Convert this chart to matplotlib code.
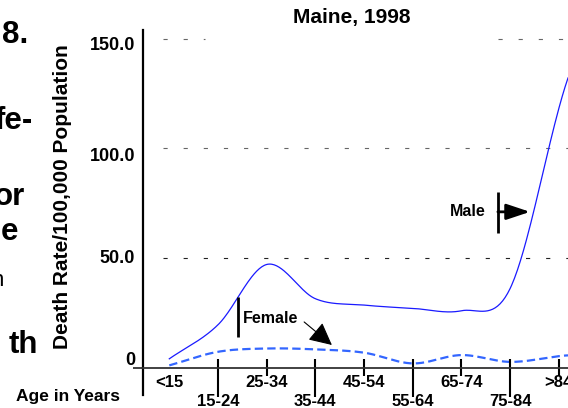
import numpy as np
import matplotlib
import matplotlib.pyplot as plt
from matplotlib.transforms import ScaledTranslation

plt.rcParams['font.family'] = ['Liberation Sans', 'DejaVu Sans']
plt.rcParams['font.weight'] = 'bold'
plt.rcParams['lines.scale_dashes'] = False

# data
ages = ['<15', '15-24', '25-34', '35-44', '45-54', '55-64', '65-74', '75-84', '>84']
male = [4, 19.5, 47, 31.4, 28.5, 27, 25.9, 36, 118]
female = [1, 7.2, 8.7, 8.3, 6.8, 1.9, 5.7, 2.6, 5.2]
yticks = [0, 50, 100, 150]
ytick_labels = ['0', '50.0', '100.0', '150.0']


def smooth(ys, n=40, tail=0.19):
    # excel style smoothed line (catmull-rom through the points)
    ys = np.asarray(ys, float)
    m = np.zeros_like(ys)
    m[1:-1] = (ys[2:] - ys[:-2]) / 2
    m[0] = ys[1] - ys[0]
    m[-1] = ys[-1] - ys[-2]
    xs_out, ys_out = [], []
    for i in range(len(ys) - 1):
        end = 1 + tail if i == len(ys) - 2 else 1
        t = np.linspace(0, end, n)
        h00 = 2*t**3 - 3*t**2 + 1
        h10 = t**3 - 2*t**2 + t
        h01 = -2*t**3 + 3*t**2
        h11 = t**3 - t**2
        xs_out.append(i + t)
        ys_out.append(h00*ys[i] + h10*m[i] + h01*ys[i+1] + h11*m[i+1])
    return np.concatenate(xs_out), np.concatenate(ys_out)


fig = plt.figure(figsize=(5.68, 4.08), dpi=100)
ax = fig.add_axes([143/568, 13/408, 425/568, 365/408])
ax.set_xlim(-0.54, 8.19)
ax.set_ylim(-12.5, 153.9)

for s in ['top', 'right']:
    ax.spines[s].set_visible(False)
ax.spines['left'].set_linewidth(1.6)
ax.spines['bottom'].set_position(('data', 0))
ax.spines['bottom'].set_color('#333333')
ax.spines['bottom'].set_linewidth(1.3)
ax.hlines(0, -0.74, -0.54, color='#333333', lw=1.3, clip_on=False)

# grid
ax.hlines([50, 100], -0.13, 8.19, colors=['#222222', '#666666'], lw=0.8,
          linestyles=[(0, (3, 11.5))])
ax.hlines([150, 150], [-0.13, 6.75], [0.73, 8.19], colors='#666666', lw=0.8,
          linestyles=[(0, (3, 11.5))])

# lines
mx, my = smooth(male)
ax.plot(mx, my, color='#1a1aff', lw=0.9)
fx, fy = smooth(female)
ax.plot(fx, fy, color='#3366ff', lw=1.6, linestyle=(0, (6, 3)))

# x ticks
idx = np.arange(len(ages))
ax.vlines(idx[2::2], -3.9, 3.9, color='black', lw=1.5, clip_on=False)
ax.vlines(idx[1::2], -13.45, 3.9, color='black', lw=1.5, clip_on=False)
ax.set_xticks(idx[0::2])
ax.set_xticklabels(ages[0::2])
ax.set_xticks(idx[1::2], minor=True)
ax.set_xticklabels(ages[1::2], minor=True)
ax.tick_params(axis='x', which='major', length=0, pad=5.4, labelsize=12)
ax.tick_params(axis='x', which='minor', length=0, pad=19, labelsize=12)

# y ticks
ax.set_yticks(yticks)
ax.set_yticklabels(ytick_labels)
ax.tick_params(axis='y', length=0, pad=5.8, labelsize=13)
offs = [-9.5, -1, 6, 5]
for lab, o in zip(ax.get_yticklabels(), offs):
    lab.set_transform(lab.get_transform() + ScaledTranslation(0, -o/100, fig.dpi_scale_trans))

# annotations
ax.vlines(6.75, 61.4, 80.1, color='black', lw=2)
ax.annotate('', xy=(7.41, 71), xytext=(6.75, 71),
            arrowprops=dict(arrowstyle='-|>,head_length=0.72,head_width=0.24',
                            mutation_scale=20, lw=2, color='black',
                            shrinkA=0, shrinkB=0))
ax.text(6.49, 71, 'Male', ha='right', va='center', fontsize=11.5)

ax.vlines(1.41, 13.9, 32.2, color='black', lw=2)
ax.text(1.51, 22.6, 'Female', ha='left', va='center', fontsize=11.5)
ax.annotate('', xy=(3.34, 10.3), xytext=(2.77, 20.8),
            arrowprops=dict(arrowstyle='-|>,head_length=0.7,head_width=0.35',
                            mutation_scale=20, lw=0.8, color='black',
                            shrinkA=0, shrinkB=0))

fig.text(352/568, 1 - 18/408, 'Maine, 1998', ha='center', va='center', fontsize=15)
fig.text(62.5/568, 1 - 197/408, 'Death Rate/100,000 Population', rotation=90,
         ha='center', va='center', fontsize=15)
fig.text(67.5/568, 1 - 397/408, 'Age in Years', ha='center', va='center', fontsize=12.5)

# cut off body text at the left edge
for txt, x, y in [('8.', 28, 35), ('fe-', 33, 121), ('or', 25, 197),
                  ('e', 18, 232), ('th', 38, 345)]:
    fig.text(x/568, 1 - y/408, txt, ha='right', va='center', fontsize=22.5)
fig.text(4/568, 1 - 280/408, 'n', ha='right', va='center', fontsize=16,
         fontweight='normal')

fig.savefig('out.png', dpi=100)
